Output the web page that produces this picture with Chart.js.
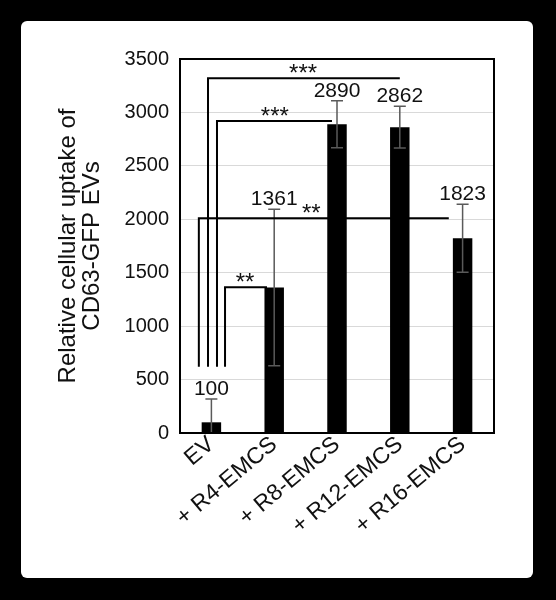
<!DOCTYPE html>
<html>
<head>
<meta charset="utf-8">
<script src="https://cdn.jsdelivr.net/npm/chart.js@4/dist/chart.umd.min.js"></script>
<style>
  html, body { margin: 0; padding: 0; background: #000; }
  #panel { position: absolute; left: 21px; top: 21px; width: 512px; height: 557px; background: #fff; border-radius: 6px; }
  #wrap { position: absolute; left: 0; top: 0; width: 556px; height: 600px; }
</style>
</head>
<body>
<div id="panel"></div>
<div id="wrap"><canvas id="canvas" width="556" height="600"></canvas></div>
<script>
var categories = ["EV", "+ R4-EMCS", "+ R8-EMCS", "+ R12-EMCS", "+ R16-EMCS"];
var uptake = [100, 1361, 2890, 2862, 1823];
var errors = [218, 732, 220, 195, 318];

// significance brackets (x in category units, y in data units)
var bracketFrom = [-0.054, 0.089, -0.2, 0.217];
var bracketTo = [3.0, 1.92, 3.78, 0.885];
var bracketLevel = [3320, 2920, 2010, 1365];
var bracketBase = 620;
var bracketStars = ["***", "***", "**", "**"];
var starAt = [1.46, 1.01, 1.59, 0.535];

var FONT = "'Liberation Sans', Arial, sans-serif";

var overlay = {
  id: "overlay",
  afterDatasetsDraw: function (chart) {
    var ctx = chart.ctx;
    var xs = chart.scales.x;
    var ys = chart.scales.y;
    var area = chart.chartArea;
    ctx.save();

    // error bars
    ctx.strokeStyle = "#5a5a5a";
    ctx.lineWidth = 1.5;
    for (var i = 0; i < uptake.length; i++) {
      var cx = xs.getPixelForValue(i);
      var top = ys.getPixelForValue(uptake[i] + errors[i]);
      var bot = Math.min(ys.getPixelForValue(uptake[i] - errors[i]), area.bottom);
      ctx.beginPath();
      ctx.moveTo(cx, top);
      ctx.lineTo(cx, bot);
      ctx.moveTo(cx - 6, top);
      ctx.lineTo(cx + 6, top);
      if (uptake[i] - errors[i] > 0) {
        ctx.moveTo(cx - 6, bot);
        ctx.lineTo(cx + 6, bot);
      }
      ctx.stroke();
    }

    // value labels
    ctx.fillStyle = "#111";
    ctx.font = "21px " + FONT;
    ctx.textAlign = "center";
    ctx.textBaseline = "alphabetic";
    for (var i = 0; i < uptake.length; i++) {
      var cx = xs.getPixelForValue(i);
      var top = ys.getPixelForValue(uptake[i] + errors[i]);
      ctx.fillText(String(uptake[i]), cx, top - 4);
    }

    // brackets
    ctx.strokeStyle = "#000";
    ctx.lineWidth = 2;
    for (var j = 0; j < bracketLevel.length; j++) {
      var x0 = xs.getPixelForValue(bracketFrom[j]);
      var x1 = xs.getPixelForValue(bracketTo[j]);
      var yl = ys.getPixelForValue(bracketLevel[j]);
      var yb = ys.getPixelForValue(bracketBase);
      ctx.beginPath();
      ctx.moveTo(x0, yb);
      ctx.lineTo(x0, yl);
      ctx.lineTo(x1, yl);
      ctx.stroke();
      ctx.font = "24px " + FONT;
      ctx.textBaseline = "alphabetic";
      ctx.fillText(bracketStars[j], xs.getPixelForValue(starAt[j]), yl + 3);
    }

    // plot box
    ctx.lineWidth = 2;
    ctx.strokeRect(area.left, area.top, area.right - area.left, area.bottom - area.top);
    ctx.restore();
  }
};

var config = {
  type: "bar",
  data: {
    labels: categories,
    datasets: [
      {
        data: uptake,
        backgroundColor: "#000",
        borderWidth: 0,
        barPercentage: 0.31,
        categoryPercentage: 1.0
      }
    ]
  },
  options: {
    responsive: false,
    animation: false,
    layout: { padding: { left: 0, top: 59, right: 62, bottom: 0 } },
    plugins: { legend: { display: false }, tooltip: { enabled: false } },
    scales: {
      x: {
        grid: { display: false, drawTicks: false },
        border: { display: false },
        ticks: {
          color: "#111",
          font: { family: FONT, size: 23 },
          minRotation: 40,
          maxRotation: 40,
          padding: -2,
          autoSkip: false
        },
        afterFit: function (scale) { scale.height = 167; }
      },
      y: {
        min: 0,
        max: 3500,
        grid: { color: "#d9d9d9", lineWidth: 1, drawTicks: false },
        border: { display: false },
        ticks: {
          stepSize: 500,
          color: "#111",
          font: { family: FONT, size: 20 },
          padding: 11,
          callback: function (v) { return String(v); }
        },
        title: {
          display: true,
          text: ["Relative cellular uptake of", "CD63-GFP EVs"],
          color: "#111",
          font: { family: FONT, size: 24, lineHeight: 0.98 },
          padding: { top: 57, bottom: 0 }
        },
        afterFit: function (scale) { scale.width = 180; }
      }
    }
  },
  plugins: [overlay]
};

var myChart = new Chart(document.getElementById("canvas"), config);
</script>
</body>
</html>
